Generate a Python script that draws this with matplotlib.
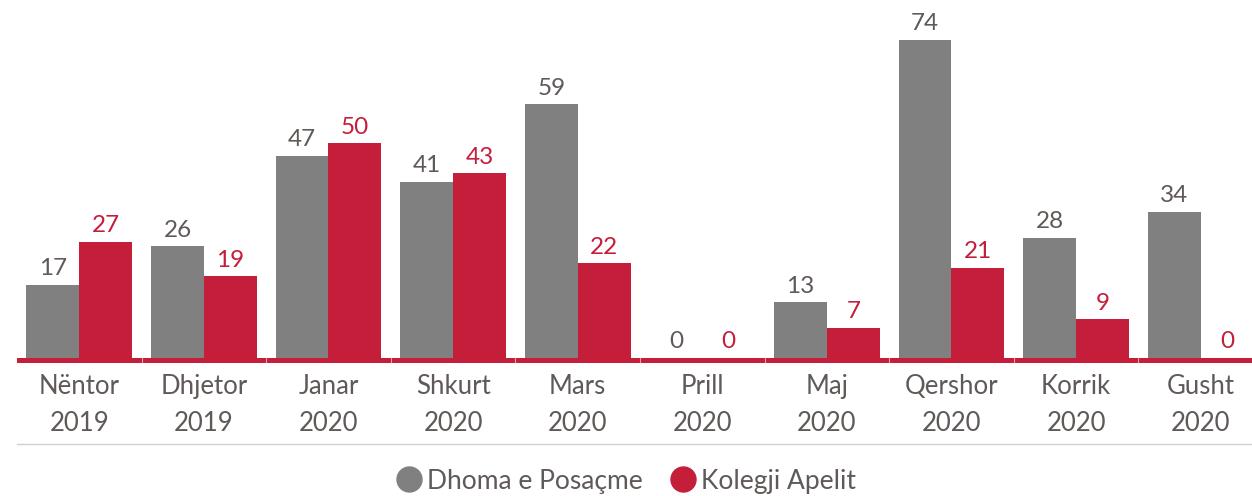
import numpy as np
import matplotlib.pyplot as plt
from matplotlib.lines import Line2D

months = ["Nëntor", "Dhjetor", "Janar", "Shkurt", "Mars", "Prill", "Maj", "Qershor", "Korrik", "Gusht"]
years = ["2019", "2019", "2020", "2020", "2020", "2020", "2020", "2020", "2020", "2020"]
dhoma = [17, 26, 47, 41, 59, 0, 13, 74, 28, 34]
kolegji = [27, 19, 50, 43, 22, 0, 7, 21, 9, 0]
series_names = ["Dhoma e Posaçme", "Kolegji Apelit"]

GRAY = "#808080"
RED = "#c41e3a"
TEXT = "#5f5957"

plt.rcParams['font.family'] = ['Lato', 'DejaVu Sans']

W, H = 1252, 496
fig = plt.figure(figsize=(W / 100, H / 100), dpi=100)
ax = fig.add_axes([17 / W, 1 - 363 / H, 1 - 17 / W, 363 / H])

x = np.arange(len(months))
bw = 0.424
b1 = ax.bar(x - bw / 2, dhoma, bw, color=GRAY)
b2 = ax.bar(x + bw / 2, kolegji, bw, color=RED)

for rect, v in zip(b1, dhoma):
    ax.annotate(str(v), (rect.get_x() + rect.get_width() / 2, v), xytext=(0, 4),
                textcoords="offset points", ha="center", va="bottom", fontsize=17.5, color=TEXT)
for rect, v in zip(b2, kolegji):
    ax.annotate(str(v), (rect.get_x() + rect.get_width() / 2, v), xytext=(0, 4),
                textcoords="offset points", ha="center", va="bottom", fontsize=17.5, color=RED)

px = 318 / 74
ax.set_ylim(-5 / px, 358 / px)
ax.set_xlim(-0.5, (W - 17) / 124.6 - 0.5)

# red baseline with white separators between groups
ax.axhspan(-5 / px, 0, color=RED, lw=0)
for b in np.arange(0.5, len(months) - 0.5, 1.0):
    ax.plot([b, b], [-5 / px, 0], color="#e8a0ac", lw=0.8)

ax.set_xticks(x)
ax.set_xticklabels([f"{m}\n{y}" for m, y in zip(months, years)], fontsize=18.5,
                   color=TEXT, linespacing=1.6)
ax.tick_params(axis="x", length=0, pad=8)
ax.set_yticks([])
for s in ax.spines.values():
    s.set_visible(False)

fig.add_artist(Line2D([17 / W, 1], [1 - 444 / H, 1 - 444 / H], color="#d0d0d0", lw=1))

handles = [Line2D([], [], marker="o", ls="", markersize=18, color=c) for c in (GRAY, RED)]
fig.legend(handles, series_names, loc="center", bbox_to_anchor=(0.5, 1 - 481 / H),
           ncol=2, frameon=False, fontsize=19, labelcolor=TEXT,
           handletextpad=0.2, columnspacing=1.0, handlelength=1.0)

fig.savefig("out.png", dpi=100)
